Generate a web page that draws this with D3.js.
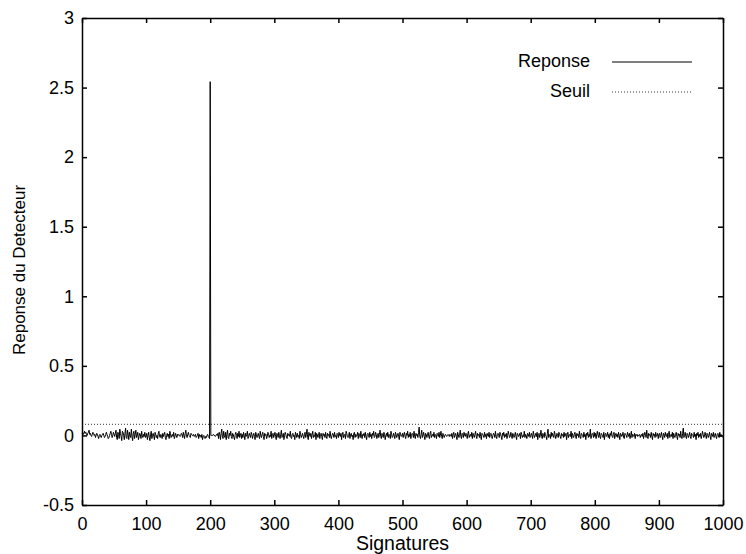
<!DOCTYPE html>
<html>
<head>
<meta charset="utf-8">
<script src="https://cdn.jsdelivr.net/npm/d3@7"></script>
<style>
  body { margin: 0; background: #fff; }
  svg text { font-family: "Liberation Sans", Arial, sans-serif; fill: #000; }
</style>
</head>
<body>
<div id="chart"></div>
<script>
// Detector response over 1000 signatures, with the detection threshold

// Response values in units of 0.0075, one row per 50 signatures (index 200 is the detection)
const responseUnits = [
  2,3,1,2,4,2,3,1,0,2,3,5,1,2,0,-1,1,3,2,0,1,-2,0,2,1,-1,-3,0,1,-1,-2,0,1,2,0,-2,-1,1,3,1,-1,-3,-2,0,2,4,1,-2,0,3,
  1,-1,2,5,-2,-4,3,1,-3,6,2,-1,-5,4,3,0,-4,2,7,-2,-3,5,1,-4,3,0,-2,6,-1,-5,2,4,-3,1,5,-2,0,3,-4,-1,2,1,-3,4,0,-2,1,-1,3,-2,
  -1,2,-4,0,3,-2,-5,1,4,-3,0,2,-1,-4,3,1,-2,0,-3,2,4,-1,-2,1,0,-3,2,-1,1,3,-2,-4,0,2,-1,1,-3,4,2,-2,0,1,-1,3,-3,-1,2,0,-2,1,
  0,1,0,-1,0,2,1,-2,3,0,-3,2,5,-1,-2,1,3,0,-1,-2,2,1,0,0,1,-1,0,1,-2,-1,0,2,-3,1,-1,0,-2,1,-4,-1,0,-2,-3,-1,-2,0,1,-1,-2,-3,
  339,0,0,0,0,1,0,0,-1,0,1,0,2,-3,3,1,-4,2,6,-1,-3,4,0,-2,3,-4,1,5,-2,-3,2,0,4,-1,-3,2,1,-2,-4,1,3,0,-3,2,-1,4,-2,0,2,-3,
  1,-2,3,0,-4,2,-1,1,4,-3,-1,2,0,-2,3,1,-3,0,2,-1,-4,3,1,-2,0,2,-1,-3,4,0,-2,1,3,-1,-4,2,0,1,-3,-1,3,2,-2,0,-1,4,-3,1,2,-2,
  0,3,-1,-4,2,1,-2,3,0,-3,1,5,-2,-1,2,-4,0,3,1,-2,-3,2,0,1,-1,4,-2,-3,1,2,-1,0,-4,3,1,-2,2,-1,0,-3,4,1,-2,0,2,-1,-3,1,3,-2,
  1,6,-2,-4,3,0,-1,2,-3,1,4,-2,0,-1,3,-4,2,1,-2,0,3,-3,1,2,-1,-4,2,0,1,-2,3,-1,-3,2,0,1,-2,4,-1,-3,0,2,1,-2,3,-1,0,-3,2,1,
  -2,3,0,-1,2,-4,1,3,-2,0,1,-3,4,2,-1,-2,0,3,-3,1,2,-1,0,-4,2,3,-2,1,-1,0,3,-3,2,1,-2,4,-1,-3,1,0,2,-2,3,-1,-4,1,2,0,-2,3,
  -1,1,-3,2,0,4,-2,-1,3,1,-3,0,2,-2,1,5,-1,-3,2,0,-2,3,1,-4,0,2,-1,3,-2,1,0,-3,4,1,-2,-1,2,0,-3,3,1,-2,0,2,-1,-4,3,1,-1,0,
  2,-2,1,3,-1,-3,2,0,4,-2,1,-1,3,-3,0,2,1,-2,4,-1,-3,2,0,1,-2,3,8,-1,-3,1,5,-2,0,3,-1,-4,2,1,-2,0,3,-1,-3,2,4,-2,0,1,-1,3,
  -2,1,0,-3,2,1,-1,3,-2,0,4,-1,-3,2,1,-2,0,1,0,-1,0,1,0,-1,1,0,-1,2,-3,1,3,-2,0,2,-1,-4,3,1,-2,0,5,-1,-3,2,1,-2,3,0,-1,2,
  1,-3,2,4,-2,0,1,-1,3,-3,2,0,-2,1,4,-1,-3,2,0,1,-2,3,-1,-4,2,1,0,-2,3,-1,1,-3,2,0,-1,3,-2,1,2,-1,-3,0,2,1,-2,4,-1,-3,1,2,
  0,-2,3,1,-1,-4,2,0,3,-2,1,-1,2,-3,0,4,1,-2,-1,3,0,-3,2,1,-2,0,3,-1,-4,2,1,-1,0,2,-3,3,1,-2,0,-1,4,-2,1,0,-3,2,1,-1,3,-2,
  -1,2,0,-3,4,1,-2,0,2,-1,3,-4,1,2,-2,0,5,-1,-3,2,1,-2,3,0,-1,-4,2,6,-2,0,1,-3,3,-1,2,0,-2,4,1,-3,-1,2,0,-2,3,1,-1,-3,2,0,
  1,-2,3,-1,0,2,-4,1,3,-2,0,1,-1,4,-3,2,0,-2,1,3,-1,-3,2,0,1,-2,4,-1,-3,2,1,0,-2,3,-1,1,-4,2,0,3,-2,1,-1,6,-3,0,2,1,-2,3,
  -1,2,-3,1,4,0,-2,3,-1,-3,2,1,0,-2,3,-4,1,2,-1,0,3,-2,1,-3,2,0,4,-1,-2,1,3,-3,0,2,-1,1,-2,3,0,-4,2,1,-1,0,3,-2,-3,2,1,0,
  -2,3,1,-1,2,-3,0,4,-2,1,0,-1,2,-3,1,0,1,-1,0,0,1,-2,0,1,-1,2,-3,0,3,1,-2,5,-1,-3,2,0,1,-2,3,-1,-4,2,0,1,-2,3,-1,0,2,-3,
  1,2,-2,0,3,-1,-4,2,1,-2,3,0,-1,2,-3,1,4,-2,0,1,-1,3,-3,2,0,-2,1,3,-1,-4,2,0,1,-2,4,-1,-3,2,7,-2,0,3,-1,-3,2,1,-2,0,3,-1,
  -3,2,1,0,-2,3,-1,1,-4,2,0,3,-2,1,-1,2,-3,0,4,1,-2,-1,3,0,-3,2,1,-2,0,3,-1,-4,2,1,-1,3,-2,0,2,-1,-3,1,2,0,-2,3,-1,1,0,-2
];
const unit = 0.0075;
const threshold = 0.08;

const xTicks = [0, 100, 200, 300, 400, 500, 600, 700, 800, 900, 1000];
const yTicks = [-0.5, 0, 0.5, 1, 1.5, 2, 2.5, 3];
const legendLabels = ["Reponse", "Seuil"];

const response = responseUnits.map((v, i) => ({x: i, y: v * unit}));

// Dimensions
const W = 746, H = 554;
const margin = {top: 18, right: 23, bottom: 49, left: 82};
const width = W - margin.left - margin.right;
const height = H - margin.top - margin.bottom;

const svg = d3.select("#chart")
    .append("svg")
    .attr("width", W)
    .attr("height", H);

const g = svg.append("g")
    .attr("transform", `translate(${margin.left},${margin.top})`);

const x = d3.scaleLinear().domain([0, 1000]).range([0, width]);
const y = d3.scaleLinear().domain([-0.5, 3]).range([height, 0]);

const fmt = d => String(d);

// Axes, ticks pointing inward on all four sides
function styleAxis(sel) {
    sel.selectAll("path, line").attr("stroke", "#000").attr("stroke-width", 1.5);
    sel.selectAll("text").attr("fill", "#000").style("font-size", "18px")
        .style("font-family", "'Liberation Sans', Arial, sans-serif");
}

g.append("g")
    .attr("transform", `translate(0,${height})`)
    .call(d3.axisBottom(x).tickValues(xTicks).tickFormat(fmt).tickSizeInner(-5).tickSizeOuter(0).tickPadding(12))
    .call(styleAxis);

g.append("g")
    .call(d3.axisTop(x).tickValues(xTicks).tickFormat("").tickSizeInner(-5).tickSizeOuter(0))
    .call(styleAxis);

g.append("g")
    .call(d3.axisLeft(y).tickValues(yTicks).tickFormat(fmt).tickSizeInner(-5).tickSizeOuter(0).tickPadding(8))
    .call(styleAxis);

g.append("g")
    .attr("transform", `translate(${width},0)`)
    .call(d3.axisRight(y).tickValues(yTicks).tickFormat("").tickSizeInner(-5).tickSizeOuter(0))
    .call(styleAxis);

// Axis titles
svg.append("text")
    .attr("x", margin.left + width / 2)
    .attr("y", 550)
    .attr("text-anchor", "middle")
    .style("font-size", "19.5px")
    .text("Signatures");

svg.append("text")
    .attr("transform", "rotate(-90)")
    .attr("x", -270)
    .attr("y", 25)
    .attr("text-anchor", "middle")
    .style("font-size", "17px")
    .text("Reponse du Detecteur");

// Threshold line
g.append("line")
    .attr("x1", x(0)).attr("x2", x(1000))
    .attr("y1", y(threshold)).attr("y2", y(threshold))
    .attr("stroke", "#000")
    .attr("stroke-width", 0.8)
    .attr("stroke-dasharray", "1,2");

// Detector response
const line = d3.line().x(d => x(d.x)).y(d => y(d.y));
g.append("path")
    .datum(response)
    .attr("fill", "none")
    .attr("stroke", "#000")
    .attr("stroke-width", 1)
    .attr("d", line);

// Legend (no box)
const legend = svg.append("g");
legendLabels.forEach((lab, i) => {
    const ly = 62 + i * 30;
    legend.append("text")
        .attr("x", 590)
        .attr("y", ly + 5)
        .attr("text-anchor", "end")
        .style("font-size", "18px")
        .text(lab);
    legend.append("line")
        .attr("x1", 612).attr("x2", 692)
        .attr("y1", ly).attr("y2", ly)
        .attr("stroke", "#000")
        .attr("stroke-width", i === 0 ? 1 : 0.8)
        .attr("stroke-dasharray", i === 0 ? null : "1,2");
});
</script>
</body>
</html>
